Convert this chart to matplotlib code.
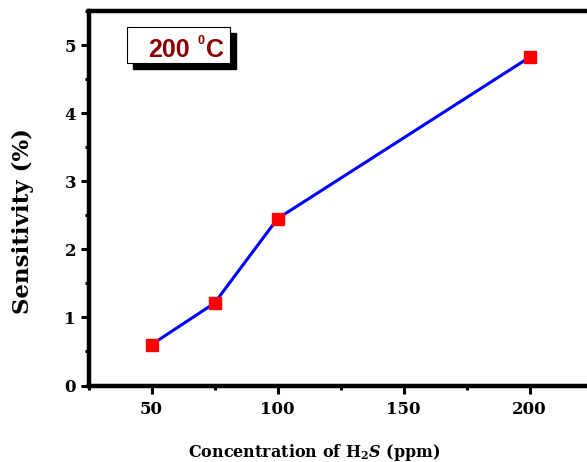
import numpy as np
import matplotlib
matplotlib.use('Agg')
import matplotlib.pyplot as plt
from matplotlib.patches import Rectangle
from matplotlib.ticker import MultipleLocator

# data
conc = [50, 75, 100, 200]          # H2S concentration (ppm)
sens = [0.60, 1.21, 2.45, 4.82]    # sensitivity (%)
xticks = [50, 100, 150, 200]
yticks = [0, 1, 2, 3, 4, 5]

plt.rcParams['font.family'] = 'DejaVu Serif'
plt.rcParams['font.weight'] = 'bold'
plt.rcParams['mathtext.fontset'] = 'custom'
plt.rcParams['mathtext.rm'] = 'DejaVu Serif:bold'
plt.rcParams['mathtext.it'] = 'DejaVu Serif:bold:italic'

fig = plt.figure(figsize=(5.87, 4.62), dpi=100)
ax = fig.add_axes([88.5/587, 76.5/462, 504/587, 374.5/462])

ax.plot(conc, sens, color='#0000ff', lw=2.2, zorder=2)
ax.plot(conc, sens, ls='none', marker='s', ms=8.5, mfc='#ff0000', mec='#ff0000', zorder=3)

ax.set_xlim(25, 225)
ax.set_ylim(0, 5.5)
ax.set_xticks(xticks)
ax.set_yticks(yticks)
ax.xaxis.set_minor_locator(MultipleLocator(25))
ax.yaxis.set_minor_locator(MultipleLocator(0.5))

for s in ['left', 'bottom', 'top', 'right']:
    ax.spines[s].set_linewidth(3.2)
ax.tick_params(which='major', direction='out', length=6, width=2.2, labelsize=12, pad=3)
ax.tick_params(axis='x', which='major', pad=5)
ax.tick_params(which='minor', direction='out', length=3, width=2.2)
for lab in ax.get_xticklabels() + ax.get_yticklabels():
    lab.set_fontweight('bold')

ax.set_ylabel('Sensitivity (%)', fontsize=16.5, fontweight='bold')
ax.yaxis.set_label_coords(-0.108, 0.44)
ax.set_xlabel(r'Concentration of H$_2$$\mathit{S}$ (ppm)', fontsize=11.5,
              fontweight='bold')
ax.xaxis.set_label_coords(0.449, -0.152)

# temperature label box with drop shadow
bx0, bx1 = 0.076, 0.281
by0, by1 = 0.862, 0.958
dx, dy = 0.012, 0.016
ax.add_patch(Rectangle((bx0 + dx, by0 - dy), bx1 - bx0, by1 - by0, transform=ax.transAxes,
                       facecolor='black', edgecolor='black', zorder=4))
ax.add_patch(Rectangle((bx0, by0), bx1 - bx0, by1 - by0, transform=ax.transAxes,
                       facecolor='white', edgecolor='black', lw=0.8, zorder=5))
ax.text(0.118, 0.877, '200', transform=ax.transAxes, family='Liberation Sans',
        fontsize=18, fontweight='bold', color='#8b0000', zorder=6)
ax.text(0.216, 0.912, '0', transform=ax.transAxes, family='Liberation Sans',
        fontsize=9, fontweight='bold', color='#8b0000', zorder=6)
ax.text(0.234, 0.877, 'C', transform=ax.transAxes, family='Liberation Sans',
        fontsize=18, fontweight='bold', color='#8b0000', zorder=6)

fig.savefig('out.png', dpi=100)
